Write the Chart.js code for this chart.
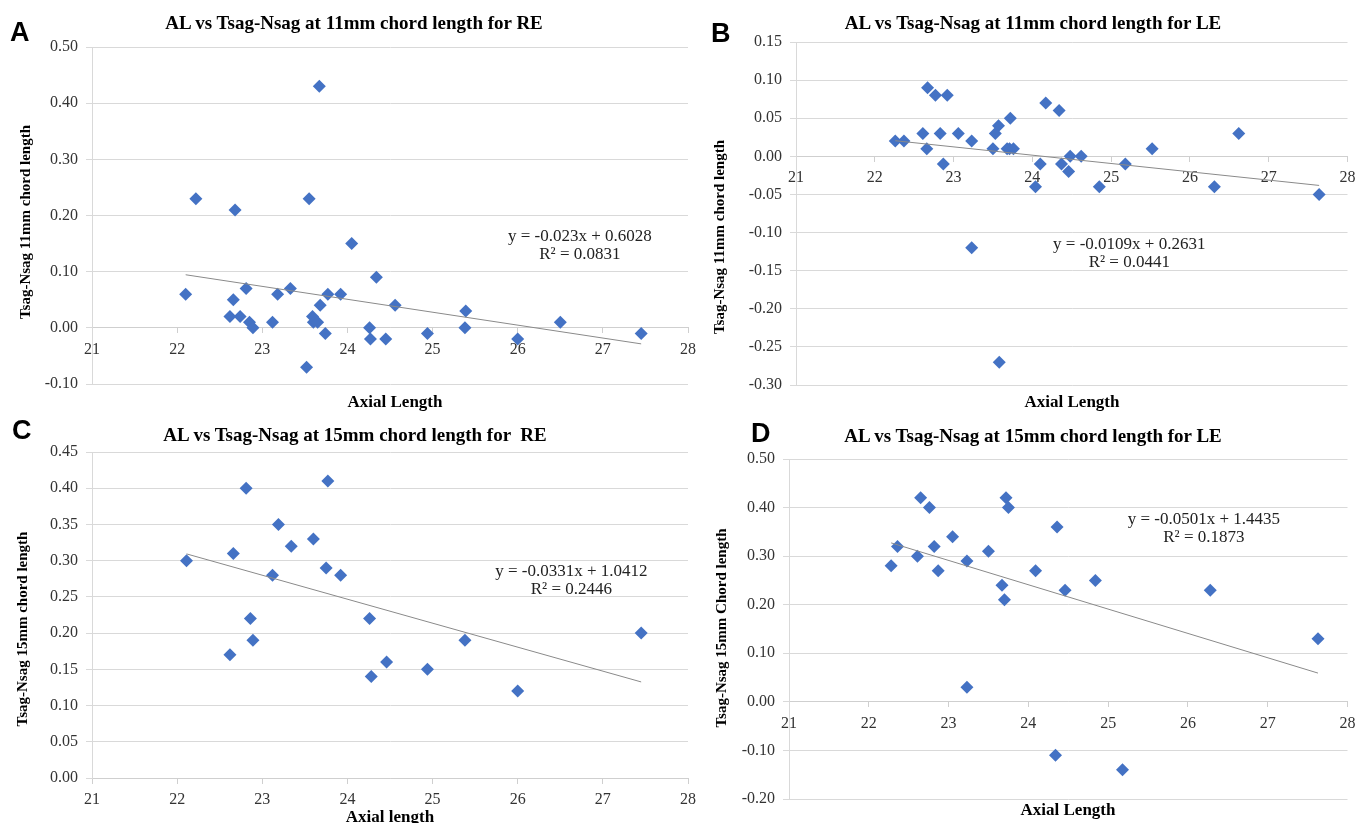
<!DOCTYPE html>
<html>
<head>
<meta charset="utf-8">
<script src="https://cdn.jsdelivr.net/npm/chart.js@4"></script>
<style>
  html,body{margin:0;padding:0;background:#fff;}
  #page{position:relative;width:1357px;height:823px;overflow:hidden;background:#fff;}
  canvas{position:absolute;}
  .tag{position:absolute;font:bold 27px "Liberation Sans",Arial,sans-serif;line-height:27px;color:#000;}
  .ttl{position:absolute;width:600px;text-align:center;font:bold 19px "Liberation Serif","Times New Roman",serif;line-height:22px;color:#000;white-space:pre;}
  .xt{position:absolute;width:300px;text-align:center;font:bold 17px "Liberation Serif","Times New Roman",serif;line-height:18px;color:#000;}
  .yt{position:absolute;width:300px;height:18px;text-align:center;font:bold 15px "Liberation Serif","Times New Roman",serif;line-height:18px;color:#000;transform:rotate(-90deg);transform-origin:50% 50%;white-space:nowrap;}
</style>
</head>
<body>
<div id="page">
  <canvas id="cA" width="700" height="410" style="left:0;top:0"></canvas>
  <canvas id="cB" width="657" height="410" style="left:700px;top:0"></canvas>
  <canvas id="cC" width="700" height="413" style="left:0;top:410px"></canvas>
  <canvas id="cD" width="657" height="413" style="left:700px;top:410px"></canvas>

  <div class="tag" style="left:10px;top:19px">A</div>
  <div class="tag" style="left:711px;top:20px">B</div>
  <div class="tag" style="left:12px;top:417px">C</div>
  <div class="tag" style="left:751px;top:420px">D</div>

  <div class="ttl" style="left:54px;top:12px">AL vs Tsag-Nsag at 11mm chord length for RE</div>
  <div class="ttl" style="left:733px;top:12px">AL vs Tsag-Nsag at 11mm chord length for LE</div>
  <div class="ttl" style="left:55px;top:424px">AL vs Tsag-Nsag at 15mm chord length for  RE</div>
  <div class="ttl" style="left:733px;top:425px">AL vs Tsag-Nsag at 15mm chord length for LE</div>

  <div class="yt" style="left:-125px;top:213px">Tsag-Nsag 11mm chord length</div>
  <div class="yt" style="left:569px;top:228px">Tsag-Nsag 11mm chord length</div>
  <div class="yt" style="left:-128px;top:620px">Tsag-Nsag 15mm chord length</div>
  <div class="yt" style="left:571px;top:619px">Tsag-Nsag 15mm Chord length</div>

  <div class="xt" style="left:245px;top:393px">Axial Length</div>
  <div class="xt" style="left:922px;top:393px">Axial Length</div>
  <div class="xt" style="left:240px;top:808px">Axial length</div>
  <div class="xt" style="left:918px;top:801px">Axial Length</div>
</div>
<script>
// ---- 數據----
// A: 11mm RE
const re11X = [22.10,22.22,22.62,22.66,22.68,22.74,22.81,22.85,22.89,23.12,23.18,23.33,23.52,23.55,23.59,23.60,23.65,23.67,23.68,23.74,23.77,23.92,24.05,24.26,24.27,24.34,24.45,24.56,24.94,25.38,25.39,26.00,26.50,27.45];
const re11Y = [0.06,0.23,0.02,0.05,0.21,0.02,0.07,0.01,0.00,0.01,0.06,0.07,-0.07,0.23,0.02,0.01,0.01,0.43,0.04,-0.01,0.06,0.06,0.15,0.00,-0.02,0.09,-0.02,0.04,-0.01,0.00,0.03,-0.02,0.01,-0.01];
// B: 11mm LE
const le11X = [22.26,22.37,22.61,22.66,22.67,22.77,22.83,22.87,22.92,23.06,23.23,23.23,23.50,23.53,23.57,23.58,23.68,23.71,23.72,23.76,24.04,24.10,24.17,24.34,24.37,24.46,24.48,24.62,24.85,25.18,25.52,26.31,26.62,27.64];
const le11Y = [0.02,0.02,0.03,0.01,0.09,0.08,0.03,-0.01,0.08,0.03,0.02,-0.12,0.01,0.03,0.04,-0.27,0.01,0.01,0.05,0.01,-0.04,-0.01,0.07,0.06,-0.01,-0.02,0.00,0.00,-0.04,-0.01,0.01,-0.04,0.03,-0.05];
// C: 15mm RE
const re15X = [22.11,22.62,22.66,22.81,22.86,22.89,23.12,23.19,23.34,23.60,23.75,23.77,23.92,24.26,24.28,24.46,24.94,25.38,26.00,27.45];
const re15Y = [0.30,0.17,0.31,0.40,0.22,0.19,0.28,0.35,0.32,0.33,0.29,0.41,0.28,0.22,0.14,0.16,0.15,0.19,0.12,0.20];
// D: 15mm LE
const le15X = [22.28,22.36,22.61,22.65,22.76,22.82,22.87,23.05,23.23,23.23,23.50,23.67,23.70,23.72,23.75,24.09,24.34,24.36,24.46,24.84,25.18,26.28,27.63];
const le15Y = [0.28,0.32,0.30,0.42,0.40,0.32,0.27,0.34,0.03,0.29,0.31,0.24,0.21,0.42,0.40,0.27,-0.11,0.36,0.23,0.25,-0.14,0.23,0.13];

// 趨勢線（圖上方程式）
const re11Fit = [-0.023, 0.6028], re11R2 = '0.0831';
const le11Fit = [-0.0109, 0.2631], le11R2 = '0.0441';
const re15Fit = [-0.0331, 1.0412], re15R2 = '0.2446';
const le15Fit = [-0.0501, 1.4435], le15R2 = '0.1873';

// 座標軸範圍 [min, max, step]
const xRange = [21, 28, 1];
const re11YRange = [-0.10, 0.50, 0.10];
const le11YRange = [-0.30, 0.15, 0.05];
const re15YRange = [0.00, 0.45, 0.05];
const le15YRange = [-0.20, 0.50, 0.10];

const SERIF = '"Liberation Serif","Times New Roman",serif';
const BLUE = '#4472C4';
const GRID = '#d9d9d9';

// 方程式文字：以資料座標定位
const eqLabel = {
  id:'eqLabel',
  afterDatasetsDraw(chart, args, o){
    if(!o || !o.lines) return;
    const {ctx, scales:{x, y}} = chart;
    const px = x.getPixelForValue(o.at[0]), py = y.getPixelForValue(o.at[1]);
    ctx.save();
    ctx.font = '17px ' + SERIF;
    ctx.fillStyle = '#222';
    ctx.textAlign = 'center';
    ctx.textBaseline = 'middle';
    o.lines.forEach((t,i)=> ctx.fillText(t, px, py + (i - (o.lines.length-1)/2) * 18));
    ctx.restore();
  }
};

const fmtEq = (fit) => `y = ${fit[0]}x + ${fit[1]}`;
const fmt2 = v => (Math.abs(v) < 1e-9 ? 0 : v).toFixed(2);

function makeChart(id, xs, ys, fit, r2, yr, lay){
  const x0 = Math.min(...xs), x1 = Math.max(...xs);
  const pts = xs.map((v,i)=>({x:v, y:ys[i]}));
  const trend = [x0, x1].map(v=>({x:v, y:fit[0]*v + fit[1]}));
  return new Chart(document.getElementById(id), {
    type:'scatter',
    data:{
      datasets:[
        { data:trend, showLine:true, borderColor:'#8a8a8a', borderWidth:1, pointRadius:0, order:0 },
        { data:pts, pointStyle:'rectRot', pointRadius:6.5, backgroundColor:BLUE, borderColor:BLUE, borderWidth:0, order:1 }
      ]
    },
    options:{
      responsive:false, animation:false, devicePixelRatio:1,
      layout:{ padding:{ left:0, right:lay.right, top:lay.top, bottom:lay.bottom } },
      plugins:{
        legend:{ display:false }, tooltip:{ enabled:false },
        eqLabel:{ lines:[fmtEq(fit), 'R² = ' + r2], at:lay.eq }
      },
      scales:{
        x:{
          type:'linear', min:xRange[0], max:xRange[1], position:{ y:0 },
          ticks:{ stepSize:xRange[2], padding:7, color:'#333', font:{ family:SERIF, size:16 } },
          grid:{ drawOnChartArea:false, drawTicks:true, tickLength:5, color:'#cfcfcf' },
          border:{ display:true, color:'#cfcfcf' },
          afterFit:s=>{ s.paddingLeft = 0; s.paddingRight = 0; }
        },
        y:{
          type:'linear', min:yr[0], max:yr[1],
          ticks:{ stepSize:yr[2], padding:8, color:'#333', font:{ family:SERIF, size:16 }, callback:v=>fmt2(v) },
          grid:{ color:GRID, drawTicks:true, tickLength:6 },
          border:{ display:true, color:GRID },
          afterFit:s=>{ s.width = lay.left; s.paddingTop = 0; s.paddingBottom = 0; }
        }
      }
    },
    plugins:[eqLabel]
  });
}

makeChart('cA', re11X, re11Y, re11Fit, re11R2, re11YRange,
  { left:92, right:12, top:47, bottom:26, eq:[26.73, 0.146] });
makeChart('cB', le11X, le11Y, le11Fit, le11R2, le11YRange,
  { left:96, right:9.5, top:42, bottom:25, eq:[25.23, -0.128] });
makeChart('cC', re15X, re15Y, re15Fit, re15R2, re15YRange,
  { left:92, right:12, top:42, bottom:45, eq:[26.63, 0.273] });
makeChart('cD', le15X, le15Y, le15Fit, le15R2, le15YRange,
  { left:89, right:9.5, top:49, bottom:24, eq:[26.20, 0.356] });
</script>
</body>
</html>
